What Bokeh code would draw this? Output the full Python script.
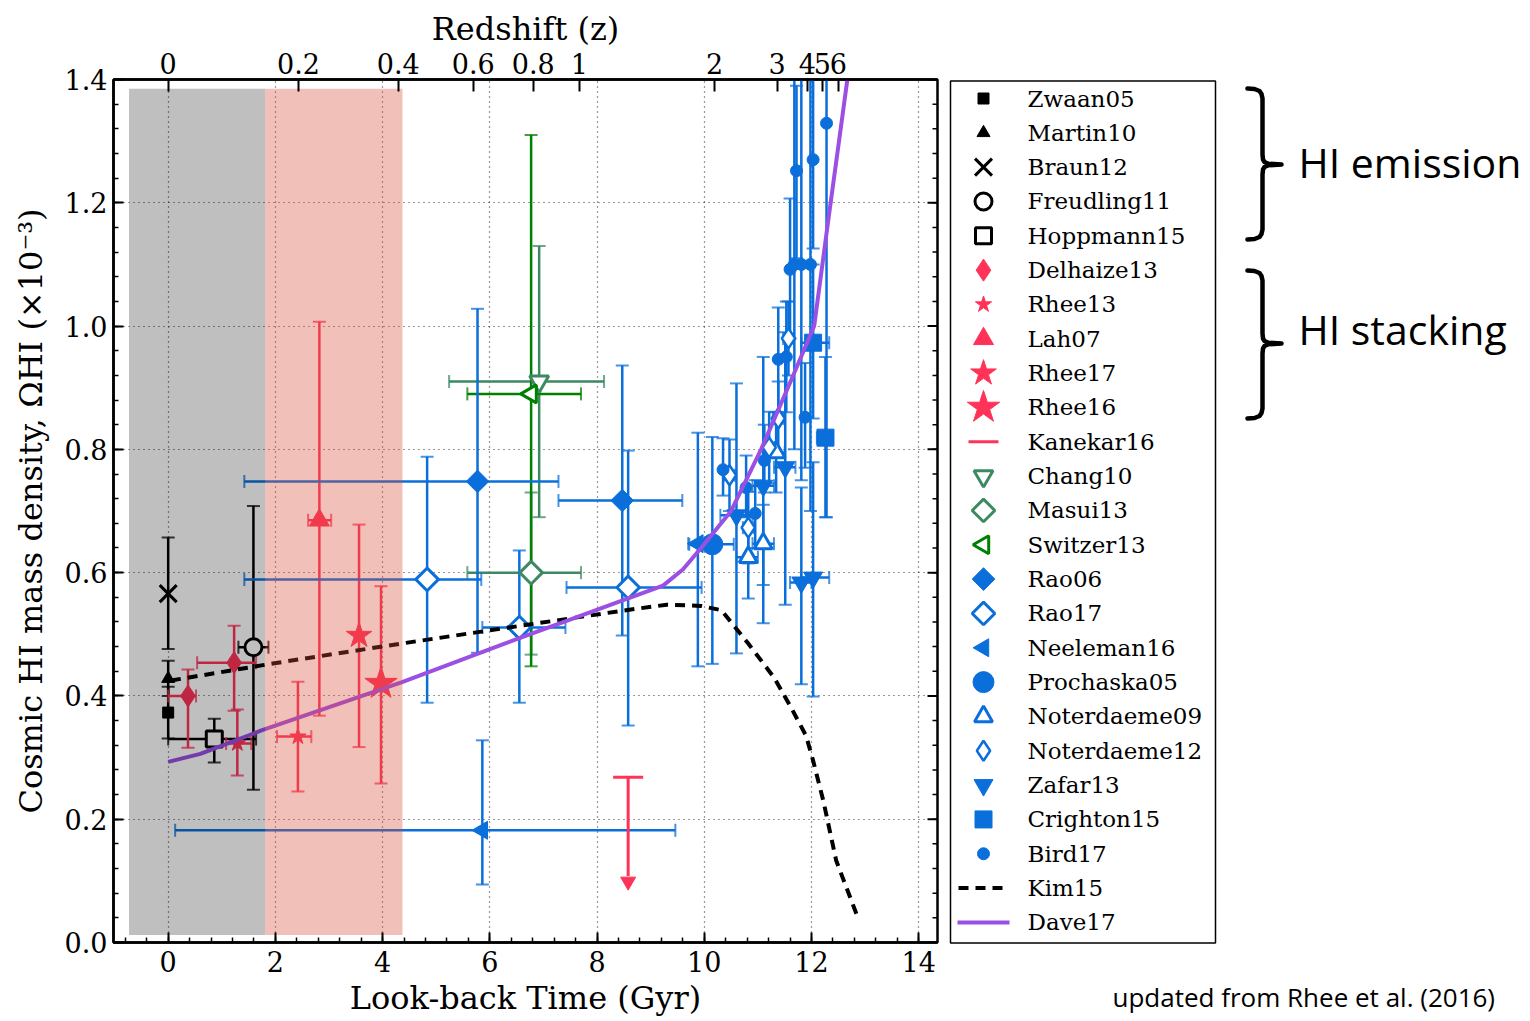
import numpy as np
from bokeh.plotting import figure
from bokeh.models import Range1d, LinearAxis, FixedTicker, NumeralTickFormatter
from bokeh.layouts import row
from bokeh.embed import file_html
from bokeh.resources import INLINE
from bokeh.core.properties import value

# ---------------- data (x = look-back time [Gyr], y = Omega_HI [x 1e-3]) ----------------
zwaan05_x = [0.0]; zwaan05_y = [0.373]; zwaan05_ylo = [0.331]; zwaan05_yhi = [0.415]
martin10_x = [0.0]; martin10_y = [0.428]; martin10_ylo = [0.400]; martin10_yhi = [0.457]
braun12_x = [0.0]; braun12_y = [0.566]; braun12_ylo = [0.476]; braun12_yhi = [0.657]
freudling11_x = [1.59]; freudling11_y = [0.479]
freudling11_xlo = [1.31]; freudling11_xhi = [1.87]; freudling11_ylo = [0.248]; freudling11_yhi = [0.708]
hoppmann15_x = [0.86]; hoppmann15_y = [0.330]
hoppmann15_xlo = [0.0]; hoppmann15_xhi = [1.64]; hoppmann15_ylo = [0.292]; hoppmann15_yhi = [0.363]

delhaize13_x = [0.37, 1.23]; delhaize13_y = [0.400, 0.454]
delhaize13_xlo = [0.0, 0.54]; delhaize13_xhi = [0.52, 1.64]
delhaize13_ylo = [0.316, 0.376]; delhaize13_yhi = [0.443, 0.514]
rhee13_x = [1.29, 2.42]; rhee13_y = [0.323, 0.334]
rhee13_xlo = [1.08, 2.03]; rhee13_xhi = [1.55, 2.67]
rhee13_ylo = [0.271, 0.245]; rhee13_yhi = [0.378, 0.423]
lah07_x = [2.82]; lah07_y = [0.685]; lah07_xlo = [2.61]; lah07_xhi = [3.04]
lah07_ylo = [0.368]; lah07_yhi = [1.007]
rhee17_x = [3.56]; rhee17_y = [0.498]; rhee17_ylo = [0.317]; rhee17_yhi = [0.678]
rhee16_x = [3.97]; rhee16_y = [0.420]; rhee16_ylo = [0.258]; rhee16_yhi = [0.578]
kanekar16_x = [8.58]; kanekar16_limit = [0.268]; kanekar16_arrow = [0.088]

chang10_x = [6.92]; chang10_y = [0.910]; chang10_xlo = [5.24]; chang10_xhi = [8.13]
chang10_ylo = [0.690]; chang10_yhi = [1.130]
masui13_x = [6.77]; masui13_y = [0.600]; masui13_xlo = [5.58]; masui13_xhi = [7.70]
masui13_ylo = [0.467]; masui13_yhi = [0.730]
switzer13_x = [6.77]; switzer13_y = [0.890]; switzer13_xlo = [5.58]; switzer13_xhi = [7.70]
switzer13_ylo = [0.448]; switzer13_yhi = [1.310]

rao06_x = [5.77, 8.47]; rao06_y = [0.748, 0.717]
rao06_xlo = [1.42, 7.28]; rao06_xhi = [7.28, 9.59]
rao06_ylo = [0.470, 0.498]; rao06_yhi = [1.028, 0.936]
rao17_x = [4.83, 6.55, 8.58]; rao17_y = [0.589, 0.511, 0.576]
rao17_xlo = [1.42, 5.86, 7.43]; rao17_xhi = [5.84, 7.41, 9.95]
rao17_ylo = [0.389, 0.389, 0.352]; rao17_yhi = [0.788, 0.636, 0.798]
neeleman16_x = [5.86, 9.88]; neeleman16_y = [0.182, 0.647]
neeleman16_xlo = [0.13, 9.70]; neeleman16_xhi = [9.46, 10.00]
neeleman16_ylo = [0.094, 0.448]; neeleman16_yhi = [0.328, 0.827]
prochaska05_x = [10.15]; prochaska05_y = [0.646]
prochaska05_xlo = [9.72]; prochaska05_xhi = [10.55]
prochaska05_ylo = [0.452]; prochaska05_yhi = [0.820]
noterdaeme09_x = [10.82, 11.10, 11.34]; noterdaeme09_y = [0.625, 0.647, 0.795]
noterdaeme09_xlo = [10.60, 10.90, 11.15]; noterdaeme09_xhi = [11.00, 11.30, 11.50]
noterdaeme09_ylo = [0.558, 0.580, 0.730]; noterdaeme09_yhi = [0.690, 0.710, 0.860]
noterdaeme12_x = [10.47, 10.82, 11.21, 11.38, 11.57]
noterdaeme12_y = [0.758, 0.673, 0.803, 0.850, 0.980]
noterdaeme12_xlo = [10.37, 10.72, 11.11, 11.28, 11.47]
noterdaeme12_xhi = [10.57, 10.92, 11.31, 11.48, 11.67]
noterdaeme12_ylo = [0.700, 0.615, 0.745, 0.790, 0.920]
noterdaeme12_yhi = [0.816, 0.731, 0.861, 0.910, 1.040]
zafar13_x = [10.60, 11.10, 11.51, 11.81, 12.03]
zafar13_y = [0.693, 0.741, 0.771, 0.584, 0.592]
zafar13_xlo = [10.30, 10.90, 11.30, 11.60, 11.81]
zafar13_xhi = [10.90, 11.30, 11.70, 12.00, 12.33]
zafar13_ylo = [0.469, 0.518, 0.548, 0.419, 0.399]
zafar13_yhi = [0.907, 0.950, 0.990, 0.738, 0.779]
crighton15_x = [12.03, 12.26]; crighton15_y = [0.973, 0.819]
crighton15_xlo = [11.81, 12.10]; crighton15_xhi = [12.33, 12.40]
crighton15_ylo = [0.850, 0.690]; crighton15_yhi = [1.100, 0.950]
bird17_x = [10.35, 10.78, 10.95, 11.12, 11.38, 11.53, 11.60, 11.68, 11.72, 11.81, 11.88, 11.98, 12.03, 12.28]
bird17_y = [0.767, 0.738, 0.696, 0.782, 0.946, 0.950, 1.092, 1.100, 1.252, 1.100, 0.852, 1.100, 1.270, 1.329]
bird17_ylo = [0.725, 0.690, 0.640, 0.730, 0.860, 0.860, 0.980, 0.800, 1.110, 0.750, 0.770, 0.700, 1.126, 0.690]
bird17_yhi = [0.818, 0.790, 0.750, 0.840, 1.030, 1.040, 1.207, 1.400, 1.390, 1.450, 0.940, 1.500, 1.420, 1.970]

kim15_x = [0.05, 1.98, 4.35, 6.59, 8.45, 9.30, 9.94, 10.32, 10.82, 11.30, 11.62, 11.90, 12.03, 12.22, 12.46, 12.87]
kim15_y = [0.425, 0.453, 0.485, 0.514, 0.538, 0.548, 0.546, 0.539, 0.485, 0.430, 0.381, 0.335, 0.295, 0.230, 0.133, 0.039]
dave17_x = [0.0, 0.60, 1.74, 4.35, 6.59, 9.23, 9.60, 9.94, 10.50, 11.06, 11.62, 12.05, 12.31, 12.70]
dave17_y = [0.293, 0.306, 0.344, 0.422, 0.495, 0.579, 0.605, 0.640, 0.700, 0.800, 0.912, 1.000, 1.170, 1.420]

# shaded ranges (look-back time) : HI emission (grey) and HI stacking (pink)
emission_band = [-0.73, 1.81]
stacking_band = [1.81, 4.37]
band_y = [0.012, 1.385]

# axes
x_min, x_max = -1.02, 14.35
x_ticks = [0, 2, 4, 6, 8, 10, 12, 14]
y_ticks = [0.0, 0.2, 0.4, 0.6, 0.8, 1.0, 1.2, 1.4]
x_minor = [round(v, 2) for v in np.arange(-0.8, 14.4, 0.4)]
y_minor = [round(v, 2) for v in np.arange(0.0, 1.41, 0.04)]
z_labels = ["0", "0.2", "0.4", "0.6", "0.8", "1", "2", "3", "4", "5", "6"]
z_lookback = [0.0, 2.43, 4.29, 5.69, 6.81, 7.67, 10.19, 11.36, 11.92, 12.20, 12.50]

legend_labels = ["Zwaan05", "Martin10", "Braun12", "Freudling11", "Hoppmann15", "Delhaize13",
                 "Rhee13", "Lah07", "Rhee17", "Rhee16", "Kanekar16", "Chang10", "Masui13",
                 "Switzer13", "Rao06", "Rao17", "Neeleman16", "Prochaska05", "Noterdaeme09",
                 "Noterdaeme12", "Zafar13", "Crighton15", "Bird17", "Kim15", "Dave17"]

# ---------------- style ----------------
FONT = "DejaVu Serif"
BLACK = "#000000"
RED = "#ff3358"
SEAG = "#3d8a62"
GREEN = "#008000"
BLUE = "#0a6fdb"
PURPLE = "#9b4fe3"

p = figure(width=940, height=1021, x_range=Range1d(x_min, x_max), y_range=Range1d(0, 1.4),
           output_backend="svg", toolbar_location=None,
           min_border_left=113, min_border_right=3, min_border_top=79, min_border_bottom=79)
p.background_fill_color = "white"
p.border_fill_color = "white"
p.outline_line_color = "black"
p.outline_line_width = 2.5

bottom = p.below[0]
left = p.left[0]
bottom.axis_label = "Look-back Time (Gyr)"
left.axis_label = "Cosmic HI mass density, \u03a9HI (\u00d710\u207b\u00b3)"
bottom.ticker = FixedTicker(ticks=x_ticks, minor_ticks=x_minor)
left.ticker = FixedTicker(ticks=y_ticks, minor_ticks=y_minor)
left.formatter = NumeralTickFormatter(format="0.0")

top = LinearAxis(axis_label="Redshift (z)",
                 ticker=FixedTicker(ticks=z_lookback, minor_ticks=[]),
                 major_label_overrides={t: l for t, l in zip(z_lookback, z_labels)})
p.add_layout(top, "above")

for ax in [bottom, left, top]:
    ax.axis_line_width = 2.5
    ax.major_tick_line_width = 2
    ax.minor_tick_line_width = 1.5
    ax.major_tick_in = 10
    ax.major_tick_out = 0
    ax.minor_tick_in = 5
    ax.minor_tick_out = 0
    ax.major_label_text_font = FONT
    ax.axis_label_text_font = FONT
    ax.axis_label_text_font_style = "normal"
    ax.axis_label_text_color = "black"
    ax.major_label_text_color = "black"
    ax.major_label_text_font_size = "27px"
    ax.axis_label_text_font_size = "32px"
bottom.major_label_standoff = 8
bottom.axis_label_standoff = 4
left.major_label_standoff = 6
left.axis_label_standoff = 12
top.major_label_standoff = 6
top.axis_label_standoff = 2
top.major_tick_in = 12

for g in [p.xgrid[0], p.ygrid[0]]:
    g.grid_line_color = "black"
    g.grid_line_dash = "1 4"
    g.grid_line_width = 1.2
    g.grid_line_alpha = 0.8
p.xgrid[0].ticker = FixedTicker(ticks=x_ticks)
p.ygrid[0].ticker = FixedTicker(ticks=y_ticks)

# mirrored ticks on the right edge (half of a dash marker lies inside the frame)
p.scatter(x=[x_max] * len(y_ticks), y=y_ticks, marker="dash", size=20, line_color="black", line_width=2)
p.scatter(x=[x_max] * len(y_minor), y=y_minor, marker="dash", size=10, line_color="black", line_width=1.5)


def errorbars(x, y, color, xlo=None, xhi=None, ylo=None, yhi=None, lw=2.5, cap=13):
    x = np.asarray(x, float); y = np.asarray(y, float)
    xlo = x if xlo is None else np.asarray(xlo, float)
    xhi = x if xhi is None else np.asarray(xhi, float)
    ylo = y if ylo is None else np.asarray(ylo, float)
    yhi = y if yhi is None else np.asarray(yhi, float)
    mv = ylo != yhi
    mh = xlo != xhi
    if mv.any():
        p.segment(x0=x[mv], y0=ylo[mv], x1=x[mv], y1=yhi[mv], line_color=color, line_width=lw)
        p.scatter(x=np.concatenate([x[mv], x[mv]]), y=np.concatenate([ylo[mv], yhi[mv]]),
                  marker="dash", size=cap, line_color=color, line_width=2, line_alpha=0.75)
    if mh.any():
        p.segment(x0=xlo[mh], y0=y[mh], x1=xhi[mh], y1=y[mh], line_color=color, line_width=lw)
        p.scatter(x=np.concatenate([xlo[mh], xhi[mh]]), y=np.concatenate([y[mh], y[mh]]),
                  marker="dash", angle=np.pi / 2, size=cap, line_color=color, line_width=2,
                  line_alpha=0.75)


def markers(x, y, marker, size, color, fill=True, lw=1.0, angle=0.0):
    p.scatter(x=x, y=y, marker=marker, size=size, angle=angle,
              fill_color=color if fill else "white", line_color=color, line_width=lw)


# error bars
errorbars(zwaan05_x, zwaan05_y, BLACK, ylo=zwaan05_ylo, yhi=zwaan05_yhi)
errorbars(martin10_x, martin10_y, BLACK, ylo=martin10_ylo, yhi=martin10_yhi)
errorbars(braun12_x, braun12_y, BLACK, ylo=braun12_ylo, yhi=braun12_yhi)
errorbars(freudling11_x, freudling11_y, BLACK, freudling11_xlo, freudling11_xhi, freudling11_ylo, freudling11_yhi)
errorbars(hoppmann15_x, hoppmann15_y, BLACK, hoppmann15_xlo, hoppmann15_xhi, hoppmann15_ylo, hoppmann15_yhi)
errorbars(delhaize13_x, delhaize13_y, RED, delhaize13_xlo, delhaize13_xhi, delhaize13_ylo, delhaize13_yhi)
errorbars(rhee13_x, rhee13_y, RED, rhee13_xlo, rhee13_xhi, rhee13_ylo, rhee13_yhi)
errorbars(lah07_x, lah07_y, RED, lah07_xlo, lah07_xhi, lah07_ylo, lah07_yhi)
errorbars(rhee17_x, rhee17_y, RED, ylo=rhee17_ylo, yhi=rhee17_yhi)
errorbars(rhee16_x, rhee16_y, RED, ylo=rhee16_ylo, yhi=rhee16_yhi)
errorbars(chang10_x, chang10_y, SEAG, chang10_xlo, chang10_xhi, chang10_ylo, chang10_yhi)
errorbars(masui13_x, masui13_y, SEAG, masui13_xlo, masui13_xhi, masui13_ylo, masui13_yhi)
errorbars(switzer13_x, switzer13_y, GREEN, switzer13_xlo, switzer13_xhi, switzer13_ylo, switzer13_yhi)
errorbars(rao06_x, rao06_y, BLUE, rao06_xlo, rao06_xhi, rao06_ylo, rao06_yhi)
errorbars(rao17_x, rao17_y, BLUE, rao17_xlo, rao17_xhi, rao17_ylo, rao17_yhi)
errorbars(neeleman16_x, neeleman16_y, BLUE, neeleman16_xlo, neeleman16_xhi, neeleman16_ylo, neeleman16_yhi)
errorbars(prochaska05_x, prochaska05_y, BLUE, prochaska05_xlo, prochaska05_xhi, prochaska05_ylo, prochaska05_yhi)
errorbars(noterdaeme09_x, noterdaeme09_y, BLUE, noterdaeme09_xlo, noterdaeme09_xhi, noterdaeme09_ylo, noterdaeme09_yhi)
errorbars(noterdaeme12_x, noterdaeme12_y, BLUE, noterdaeme12_xlo, noterdaeme12_xhi, noterdaeme12_ylo, noterdaeme12_yhi)
errorbars(zafar13_x, zafar13_y, BLUE, zafar13_xlo, zafar13_xhi, zafar13_ylo, zafar13_yhi)
errorbars(crighton15_x, crighton15_y, BLUE, crighton15_xlo, crighton15_xhi, crighton15_ylo, crighton15_yhi)
errorbars(bird17_x, bird17_y, BLUE, ylo=bird17_ylo, yhi=bird17_yhi)

# Kanekar16 upper limit
p.segment(x0=kanekar16_x, y0=kanekar16_limit, x1=kanekar16_x, y1=[a + 0.02 for a in kanekar16_arrow],
          line_color=RED, line_width=3)
p.scatter(x=kanekar16_x, y=kanekar16_limit, marker="dash", size=30, line_color=RED, line_width=3)
p.scatter(x=kanekar16_x, y=[a + 0.011 for a in kanekar16_arrow], marker="inverted_triangle", size=15,
          fill_color=RED, line_color=RED)

# markers
markers(zwaan05_x, zwaan05_y, "square", 11, BLACK)
markers(martin10_x, martin10_y, "triangle", 13, BLACK)
markers(braun12_x, braun12_y, "x", 24, BLACK, lw=3)
markers(freudling11_x, freudling11_y, "circle", 17, BLACK, fill=False, lw=3)
markers(hoppmann15_x, hoppmann15_y, "square", 16, BLACK, fill=False, lw=3)
markers(delhaize13_x, delhaize13_y, "diamond", 22, RED)
markers(rhee13_x, rhee13_y, "star", 17, RED)
markers(lah07_x, lah07_y, "triangle", 20, RED)
markers(rhee17_x, rhee17_y, "star", 27, RED)
markers(rhee16_x, rhee16_y, "star", 34, RED)
markers(chang10_x, chang10_y, "inverted_triangle", 19, SEAG, fill=False, lw=3)
markers(masui13_x, masui13_y, "square", 16, SEAG, fill=False, lw=3, angle=np.pi / 4)
markers(switzer13_x, switzer13_y, "triangle", 18, GREEN, fill=False, lw=3, angle=np.pi / 2)
markers(rao06_x, rao06_y, "square", 16, BLUE, angle=np.pi / 4)
markers(rao17_x, rao17_y, "square", 16, BLUE, fill=False, lw=3, angle=np.pi / 4)
markers(neeleman16_x, neeleman16_y, "triangle", 18, BLUE, angle=np.pi / 2)
markers(prochaska05_x, prochaska05_y, "circle", 21, BLUE)
markers(noterdaeme09_x, noterdaeme09_y, "triangle", 18, BLUE, fill=False, lw=3)
markers(noterdaeme12_x, noterdaeme12_y, "diamond", 20, BLUE, fill=False, lw=2.5)
markers(zafar13_x, zafar13_y, "inverted_triangle", 19, BLUE)
markers(crighton15_x, crighton15_y, "square", 17, BLUE)
markers(bird17_x, bird17_y, "circle", 12, BLUE)

# model lines
p.line(kim15_x, kim15_y, line_color=BLACK, line_width=4, line_dash="10 7")
p.line(dave17_x, dave17_y, line_color=PURPLE, line_width=4)

# shaded bands drawn on top (translucent)
p.quad(left=[emission_band[0]], right=[emission_band[1]], bottom=[band_y[0]], top=[band_y[1]],
       fill_color="black", fill_alpha=0.25, line_color=None)
p.quad(left=[stacking_band[0]], right=[stacking_band[1]], bottom=[band_y[0]], top=[band_y[1]],
       fill_color="#d64b37", fill_alpha=0.35, line_color=None)

# ---------------- side panel: legend + annotations (page pixel coordinates) ----------------
s = figure(width=590, height=1021, x_range=Range1d(940, 1530), y_range=Range1d(1021, 0),
           output_backend="svg", toolbar_location=None, x_axis_location=None, y_axis_location=None,
           min_border_left=0, min_border_right=0, min_border_top=0, min_border_bottom=0)
s.grid.visible = False
s.outline_line_color = None
s.background_fill_color = "white"
s.border_fill_color = "white"

s.quad(left=[950], right=[1215], top=[80.5], bottom=[942.5], fill_color="white",
       line_color="black", line_width=1.5)

legend_style = {
    "Zwaan05": ("square", 11, BLACK, True, 1, 0),
    "Martin10": ("triangle", 13, BLACK, True, 1, 0),
    "Braun12": ("x", 24, BLACK, True, 3, 0),
    "Freudling11": ("circle", 17, BLACK, False, 3, 0),
    "Hoppmann15": ("square", 16, BLACK, False, 3, 0),
    "Delhaize13": ("diamond", 22, RED, True, 1, 0),
    "Rhee13": ("star", 17, RED, True, 1, 0),
    "Lah07": ("triangle", 20, RED, True, 1, 0),
    "Rhee17": ("star", 27, RED, True, 1, 0),
    "Rhee16": ("star", 34, RED, True, 1, 0),
    "Chang10": ("inverted_triangle", 19, SEAG, False, 3, 0),
    "Masui13": ("square", 16, SEAG, False, 3, np.pi / 4),
    "Switzer13": ("triangle", 18, GREEN, False, 3, np.pi / 2),
    "Rao06": ("square", 16, BLUE, True, 1, np.pi / 4),
    "Rao17": ("square", 16, BLUE, False, 3, np.pi / 4),
    "Neeleman16": ("triangle", 18, BLUE, True, 1, np.pi / 2),
    "Prochaska05": ("circle", 21, BLUE, True, 1, 0),
    "Noterdaeme09": ("triangle", 18, BLUE, False, 3, 0),
    "Noterdaeme12": ("diamond", 20, BLUE, False, 2.5, 0),
    "Zafar13": ("inverted_triangle", 19, BLUE, True, 1, 0),
    "Crighton15": ("square", 17, BLUE, True, 1, 0),
    "Bird17": ("circle", 12, BLUE, True, 1, 0),
}
for i, lab in enumerate(legend_labels):
    yc = 98 + i * 34.33
    if lab in legend_style:
        mk, sz, col, fill, lw, ang = legend_style[lab]
        s.scatter(x=[983], y=[yc], marker=mk, size=sz, angle=ang,
                  fill_color=col if fill else "white", line_color=col, line_width=lw)
    elif lab == "Kanekar16":
        s.line(x=[968, 998], y=[yc, yc], line_color=RED, line_width=3)
    elif lab == "Kim15":
        s.line(x=[958, 1009], y=[yc, yc], line_color=BLACK, line_width=4, line_dash="10 7")
    elif lab == "Dave17":
        s.line(x=[957, 1009], y=[yc, yc], line_color=PURPLE, line_width=4)
    s.text(x=[1027], y=[yc], text=[lab], text_font=value(FONT), text_font_size="23px",
           text_baseline="middle", text_align="left", text_color="black")


def brace(top_y, bot_y, tip_y):
    xs, arm, tip = 1262, 1247, 1281
    bx = [arm, 1254, 1259, 1261, xs, xs, xs + 0.5, xs + 2, xs + 6, tip,
          xs + 6, xs + 2, xs + 0.5, xs, xs, 1261, 1259, 1254, arm]
    by = [top_y, top_y + 0.5, top_y + 2.5, top_y + 5.5, top_y + 10, tip_y - 10, tip_y - 5,
          tip_y - 2.5, tip_y - 0.8, tip_y, tip_y + 0.8, tip_y + 2.5, tip_y + 5, tip_y + 10,
          bot_y - 10, bot_y - 5.5, bot_y - 2.5, bot_y - 0.5, bot_y]
    s.line(x=bx, y=by, line_color="black", line_width=4.5, line_join="round", line_cap="round")


brace(88, 239, 164)
brace(270, 418, 343)
s.text(x=[1298], y=[161], text=["HI emission"], text_font=value("Open Sans"),
       text_font_size="41px", text_baseline="middle", text_color="black")
s.text(x=[1298], y=[328], text=["HI stacking"], text_font=value("Open Sans"),
       text_font_size="41px", text_baseline="middle", text_color="black")
s.text(x=[1112], y=[996], text=["updated from Rhee et al. (2016)"], text_font=value("Open Sans"),
       text_font_size="26px", text_baseline="middle", text_color="black")

layout = row(p, row(s))
open("out.html", "w").write(file_html(layout, INLINE))
